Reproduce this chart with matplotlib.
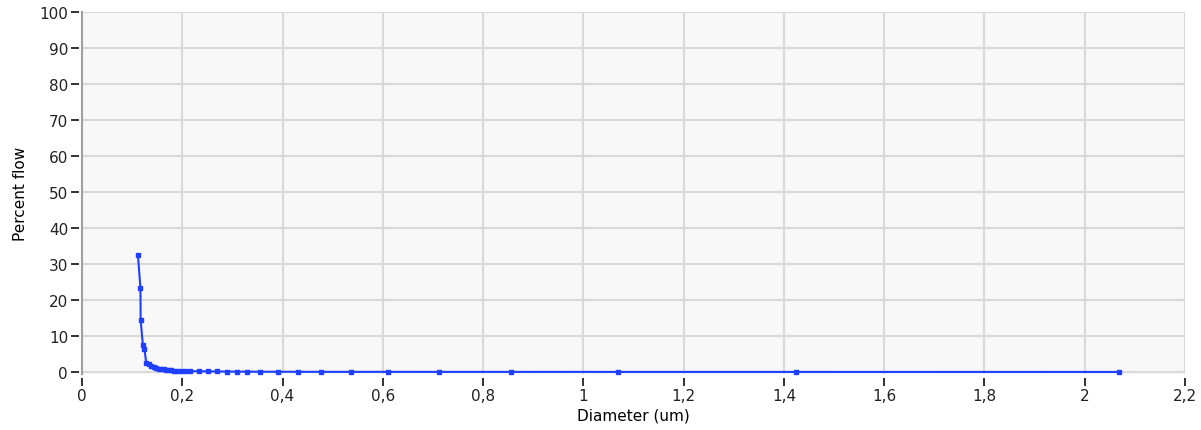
import matplotlib.pyplot as plt
from matplotlib.ticker import FuncFormatter, MultipleLocator

# Pore diameter (um) and percent flow per step
diameter = [0.1115, 0.1165, 0.117, 0.1215, 0.1245, 0.128, 0.133, 0.138, 0.143,
            0.148, 0.153, 0.158, 0.163, 0.168, 0.173, 0.178, 0.184, 0.19, 0.197,
            0.206, 0.216, 0.234, 0.252, 0.27, 0.29, 0.31, 0.33, 0.355, 0.39,
            0.43, 0.477, 0.537, 0.611, 0.713, 0.855, 1.069, 1.425, 2.068]
percent_flow = [32.6, 23.4, 14.4, 7.4, 6.5, 2.6, 2.2, 1.8, 1.3,
                1.0, 0.9, 0.8, 0.7, 0.6, 0.5, 0.5, 0.4, 0.35, 0.3,
                0.3, 0.25, 0.2, 0.18, 0.15, 0.12, 0.1, 0.1, 0.08, 0.08,
                0.06, 0.05, 0.05, 0.05, 0.04, 0.04, 0.03, 0.03, 0.02]

plt.rcParams['font.family'] = ['DejaVu Sans']
fig = plt.figure(figsize=(12.01, 4.31), dpi=100)
ax = fig.add_axes([82 / 1201, (431 - 375) / 431, (1185 - 82) / 1201, (375 - 13) / 431])

ax.set_facecolor('#f8f8f8')
ax.plot(diameter, percent_flow, color='#1f3fff', linewidth=1.5,
        marker='s', markersize=3.5, clip_on=False, zorder=3)

ax.set_xlim(0, 2.2)
ax.set_ylim(-0.55, 100)
ax.xaxis.set_major_locator(MultipleLocator(0.2))
ax.yaxis.set_major_locator(MultipleLocator(10))
ax.xaxis.set_major_formatter(FuncFormatter(lambda v, p: f"{v:g}".replace('.', ',')))

ax.grid(True, color='#d9d9d9', linewidth=1.5)
ax.set_axisbelow(True)

for side in ['top', 'right', 'bottom', 'left']:
    ax.spines[side].set_visible(False)
ax.spines['bottom'].set_position(('outward', 3))
ax.spines['left'].set_position(('outward', 2))
ax.axvline(0, color='#a0a0a0', linewidth=1.5, clip_on=False, zorder=2)

ax.tick_params(axis='both', colors='#222222', labelsize=11, length=6, width=1.3)
ax.tick_params(axis='x', pad=1)
ax.tick_params(axis='y', pad=2)

ax.set_xlabel("Diameter (um)", fontsize=11, labelpad=3)
ax.set_ylabel("Percent flow", fontsize=11, labelpad=8)

fig.savefig("out.png", dpi=100)
